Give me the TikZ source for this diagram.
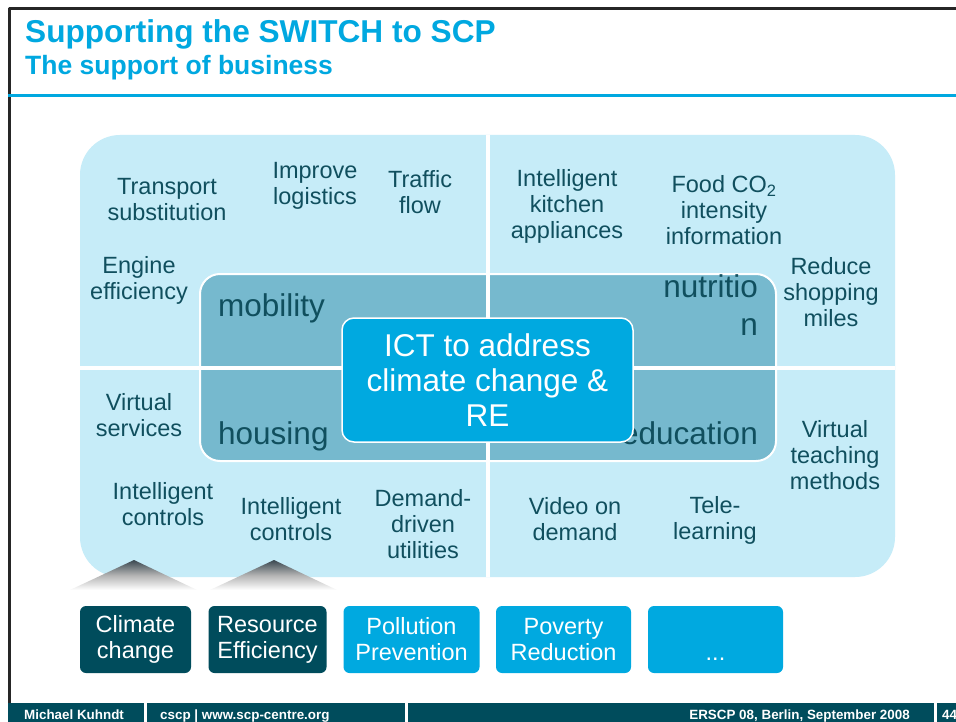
\documentclass[tikz,border=0pt]{standalone}
\usepackage{fontspec}
\setmainfont{Liberation Sans}
\usepackage{tikz}
\definecolor{titleblue}{RGB}{  0,168,224}
\definecolor{areafill} {RGB}{198,236,248}
\definecolor{innerfill}{RGB}{118,185,206}
\definecolor{ictblue}  {RGB}{  0,169,224}
\definecolor{darkteal} {RGB}{  0, 76, 92}
\definecolor{textteal} {RGB}{ 16, 79, 94}
\definecolor{roofgray} {RGB}{ 58, 72, 80}

\begin{document}
\begin{tikzpicture}[
  % one unit = one pixel of the slide, y pointing down
  x=1pt,y=-1pt,
  line cap=butt,line join=round,
  itemtext/.style={font=\fontsize{23.5}{26}\selectfont,text=textteal,align=center,inner sep=0pt},
  arealabel/.style={font=\fontsize{31.5}{38}\selectfont,text=textteal,inner sep=0pt},
  goalbox/.style={rounded corners=6pt,minimum height=67pt,inner sep=0pt,text=white,
    align=center,font=\fontsize{23.5}{26}\selectfont},
  footertext/.style={font=\fontsize{13.4}{15}\bfseries\selectfont,text=white,inner sep=0pt}
]
\useasboundingbox (0,0) rectangle (956,722);

% ---- slide frame and heading ---------------------------------------------
\fill[white] (0,0) rectangle (956,722);
\draw[black!85,line width=3pt] (9,703) -- (9,9) -- (956,9);
\node[anchor=base west,inner sep=0pt,text=titleblue,font=\fontsize{31.6}{36}\bfseries\selectfont]
  (title) at (25,43) {Supporting the SWITCH to SCP};
\node[anchor=base west,inner sep=0pt,text=titleblue,font=\fontsize{26.5}{30}\bfseries\selectfont]
  (subtitle) at (25,75) {The support of business};
\draw[titleblue,line width=3pt] (8,95.5) -- (956,95.5);

% ---- outer area with its quadrants ----------------------------------------
\fill[areafill,rounded corners=40pt] (80,135) rectangle (895,577);
\draw[white,line width=2pt,fill=innerfill,rounded corners=20pt] (200,274) rectangle (776,461);
\draw[white,line width=4pt] (488,135) -- (488,577);
\draw[white,line width=4pt] (80,367.5) -- (895,367.5);

% ---- roofs above the first two goals ---------------------------------------
\shade[top color=roofgray,bottom color=white,middle color=black!30]
  (134,560) -- (197,590) -- (70,590) -- cycle;
\shade[top color=roofgray,bottom color=white,middle color=black!30]
  (274,560) -- (337,590) -- (210,590) -- cycle;

% ---- area labels -----------------------------------------------------------
\node[arealabel,anchor=base west] (mobility) at (218,316) {mobility};
\node[arealabel,anchor=base west] (housing) at (218,444) {housing};
\node[arealabel,anchor=base east] (education) at (758,444) {education};
\node[arealabel,align=right,anchor=north east] (nutrition) at (758,274) {nutritio\\n};

% ---- centre box ------------------------------------------------------------
\node[draw=white,line width=1.5pt,fill=ictblue,rounded corners=12pt,
  minimum width=291pt,minimum height=124pt,inner sep=0pt,text=white,align=center,
  font=\fontsize{31.5}{35}\selectfont] (ict) at (487.5,380)
  {ICT to address\\climate change \&\\RE};

% ---- examples --------------------------------------------------------------
\node[itemtext] (transport) at (167,200) {Transport\\substitution};
\node[itemtext] (logistics) at (315,186) {Improve\\logistics};
\node[itemtext] (traffic)   at (420,192) {Traffic\\flow};
\node[itemtext] (kitchen)   at (567,206) {Intelligent\\kitchen\\appliances};
\node[itemtext] (foodco)    at (724,210) {Food CO\textsubscript{2}\\intensity\\information};
\node[itemtext] (engine)    at (139,280) {Engine\\efficiency};
\node[itemtext] (shopping)  at (831,292) {Reduce\\shopping\\miles};
\node[itemtext] (services)  at (139,415) {Virtual\\services};
\node[itemtext] (teaching)  at (835,455) {Virtual\\teaching\\methods};
\node[itemtext] (controlsA) at (163,504) {Intelligent\\controls};
\node[itemtext] (controlsB) at (291,519) {Intelligent\\controls};
\node[itemtext] (utilities) at (423,524) {Demand-\\driven\\utilities};
\node[itemtext] (video)     at (575,519) {Video on\\demand};
\node[itemtext] (tele)      at (715,520) {Tele-\\learning};

% ---- goals -----------------------------------------------------------------
\node[goalbox,fill=darkteal,minimum width=111pt] (climate)   at (135.5,639.5) {Climate\\change};
\node[goalbox,fill=darkteal,minimum width=118pt] (resource)  at (267.5,639.5) {Resource\\Efficiency};
\node[goalbox,fill=ictblue,minimum width=136pt]  (pollution) at (411.5,639.5) {Pollution\\Prevention};
\node[goalbox,fill=ictblue,minimum width=135pt]  (poverty)   at (563.5,639.5) {Poverty\\Reduction};
\node[goalbox,fill=ictblue,minimum width=135pt]  (more)      at (715.5,639.5) {\vphantom{Pg}\\...};

% ---- footer ----------------------------------------------------------------
\fill[darkteal] (8,703) rectangle (144,722);
\fill[darkteal] (147,703) rectangle (405,722);
\fill[darkteal] (408,703) rectangle (934,722);
\fill[darkteal] (937,703) rectangle (956,722);
\node[footertext,anchor=base west] (author) at (24,719) {Michael Kuhndt};
\node[footertext,anchor=base west] (web)    at (160,719) {cscp | www.scp-centre.org};
\node[footertext,anchor=base east] (event)  at (910,719) {ERSCP 08, Berlin, September 2008};
\node[footertext,anchor=base west] (page)   at (942,719) {44};

\end{tikzpicture}
\end{document}
